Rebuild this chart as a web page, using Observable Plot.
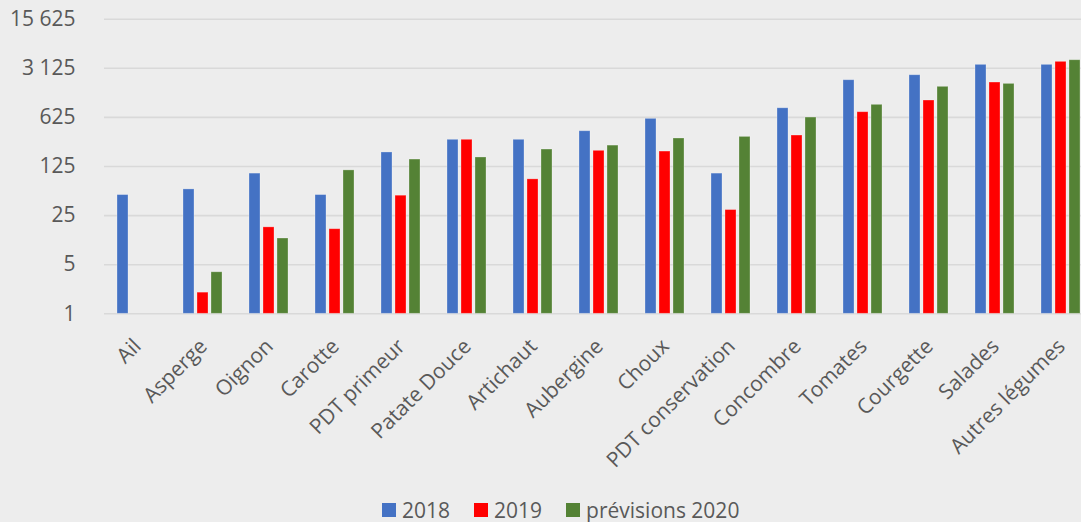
<!DOCTYPE html>
<html>
<head>
<meta charset="utf-8">
<script src="https://cdn.jsdelivr.net/npm/d3@7"></script>
<script src="https://cdn.jsdelivr.net/npm/@observablehq/plot@0.6"></script>
<style>
  html, body { margin: 0; padding: 0; background: #EDEDED; }
  #chart { width: 1081px; height: 522px; overflow: hidden; position: relative; background: #EDEDED; }
  #legend { position: absolute; left: 382px; top: 495px; height: 29px; display: flex; align-items: center;
            font-family: "Open Sans", sans-serif; font-size: 21px; color: #595959; }
  #legend .item { display: flex; align-items: center; margin-right: 24px; }
  #legend .sw { width: 14px; height: 14px; margin-right: 6px; }
</style>
</head>
<body>
<div id="chart"></div>
<script>
const categories = ["Ail","Asperge","Oignon","Carotte","PDT primeur","Patate Douce","Artichaut","Aubergine","Choux","PDT conservation","Concombre","Tomates","Courgette","Salades","Autres légumes"];
const series = ["2018","2019","prévisions 2020"];
const colors = ["#4472C4","#FF0000","#548235"];
const values2018 = [49, 59, 99, 49, 198, 300, 300, 397, 596, 99, 843, 2113, 2490, 3500, 3500];
const values2019 = [null, 2, 17, 16, 48, 300, 82, 209, 204, 30, 345, 741, 1087, 1960, 3862];
const values2020 = [null, 3.9, 11.8, 110, 157, 168, 218, 248, 313, 330, 622, 944, 1703, 1876, 4070];
const yTicks = [1, 5, 25, 125, 625, 3125, 15625];
const yTickLabels = ["1", "5", "25", "125", "625", "3 125", "15 625"];

const seriesValues = [values2018, values2019, values2020];
const data = [];
categories.forEach((c, i) => {
  series.forEach((s, j) => {
    const v = seriesValues[j][i];
    if (v != null) data.push({category: c, series: s, value: v});
  });
});

const chart = Plot.plot({
  width: 1081,
  height: 492,
  marginLeft: 103,
  marginRight: -14,
  marginTop: 18.7,
  marginBottom: 178.7,
  style: {background: "transparent", fontFamily: "Open Sans, sans-serif", fontSize: "21px", color: "#595959"},
  fx: {domain: categories, padding: 0, label: null},
  x: {domain: series, paddingInner: 0.2, paddingOuter: 0.86, axis: null},
  y: {type: "log", base: 5, domain: [1, 15625], label: null},
  color: {domain: series, range: colors},
  marks: [
    Plot.gridY(yTicks, {stroke: "#D9D9D9", strokeOpacity: 1, strokeWidth: 1.6}),
    Plot.barY(data, {fx: "category", x: "series", y1: 1, y2: "value", fill: "series",
                     stroke: "white", strokeOpacity: 0.35, strokeWidth: 0.8}),
    Plot.axisY(yTicks, {tickSize: 0, tickPadding: 29, fontSize: 21, fill: "#595959",
                        tickFormat: d => yTickLabels[yTicks.indexOf(d)], label: null}),
    Plot.axisFx({anchor: "bottom", tickSize: 0, tickPadding: 29, tickRotate: -45,
                 fontSize: 21, fill: "#595959", label: null})
  ]
});
document.getElementById("chart").appendChild(chart);

const legend = document.createElement("div");
legend.id = "legend";
series.forEach((s, j) => {
  const item = document.createElement("div");
  item.className = "item";
  const sw = document.createElement("div");
  sw.className = "sw";
  sw.style.background = colors[j];
  const t = document.createElement("span");
  t.textContent = s;
  item.appendChild(sw);
  item.appendChild(t);
  legend.appendChild(item);
});
document.getElementById("chart").appendChild(legend);
</script>
</body>
</html>
